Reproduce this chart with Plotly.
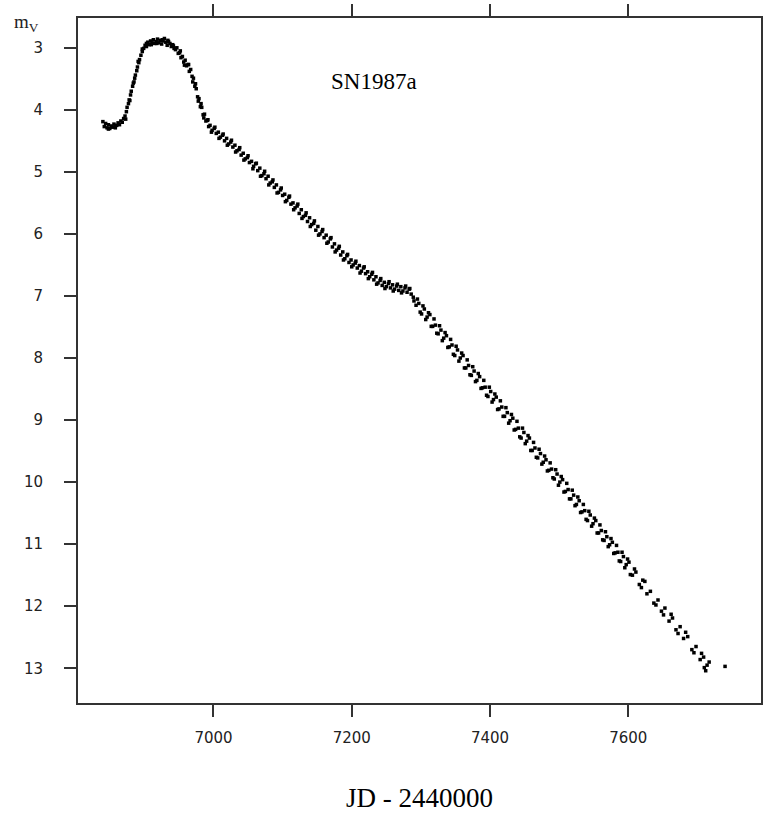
import plotly.graph_objects as go

# ---- data (JD - 2440000, visual magnitude m_V) ----
jd_rise = [6840, 6842, 6844, 6846, 6848, 6850, 6852, 6854, 6856, 6858,
           6860, 6862, 6864, 6866, 6868, 6870, 6872, 6874, 6875, 6877,
           6878, 6880, 6881, 6883, 6884, 6886, 6887, 6889, 6890, 6892,
           6893, 6895, 6897, 6899, 6901, 6903]
mag_rise = [4.19, 4.27, 4.22, 4.29, 4.24, 4.30, 4.26, 4.28, 4.23, 4.27,
            4.25, 4.21, 4.24, 4.18, 4.20, 4.14, 4.10, 4.03, 3.96, 3.90,
            3.84, 3.76, 3.70, 3.62, 3.57, 3.49, 3.44, 3.37, 3.31, 3.24,
            3.19, 3.12, 3.06, 3.01, 2.96, 2.93]

jd_peak = [6905, 6907, 6909, 6911, 6913, 6915, 6917, 6919, 6921, 6923,
           6925, 6927, 6929, 6931, 6933, 6935, 6937, 6939, 6941, 6943]
mag_peak = [2.91, 2.95, 2.89, 2.92, 2.87, 2.93, 2.90, 2.86, 2.92, 2.88,
            2.94, 2.89, 2.85, 2.91, 2.96, 2.90, 2.93, 2.98, 2.95, 3.01]

jd_fall = [6945, 6947, 6949, 6951, 6953, 6955, 6957, 6959, 6961, 6963,
           6965, 6967, 6969, 6971, 6973, 6975, 6977, 6979, 6981, 6983,
           6985, 6987, 6989, 6991, 6993, 6995, 6998, 7001, 7004, 7007,
           7010, 7013, 7016, 7019, 7022, 7025, 7028, 7031, 7034, 7037,
           7040, 7043, 7046, 7049, 7052, 7055]
mag_fall = [3.03, 3.00, 3.09, 3.08, 3.16, 3.14, 3.23, 3.20, 3.29, 3.27,
            3.38, 3.35, 3.46, 3.49, 3.62, 3.66, 3.79, 3.82, 3.95, 3.96,
            4.08, 4.07, 4.18, 4.17, 4.27, 4.25, 4.33, 4.30, 4.38, 4.36,
            4.44, 4.41, 4.50, 4.46, 4.55, 4.52, 4.60, 4.57, 4.66, 4.64,
            4.73, 4.70, 4.79, 4.77, 4.85, 4.83]

jd_tail1 = [7058, 7061, 7064, 7067, 7070, 7073, 7076, 7079, 7082, 7085,
            7088, 7091, 7094, 7097, 7100, 7103, 7106, 7109, 7112, 7115,
            7118, 7121, 7124, 7127, 7130, 7133, 7136, 7139, 7142, 7145,
            7148, 7151, 7154, 7157, 7160, 7163, 7166, 7169, 7172, 7175,
            7178, 7181, 7184, 7187, 7190, 7193, 7196]
mag_tail1 = [4.91, 4.87, 4.98, 4.94, 5.06, 5.03, 5.11, 5.07, 5.18, 5.16,
             5.25, 5.21, 5.33, 5.29, 5.38, 5.36, 5.46, 5.41, 5.52, 5.50,
             5.58, 5.55, 5.67, 5.61, 5.72, 5.70, 5.80, 5.74, 5.85, 5.83,
             5.94, 5.88, 6.00, 5.96, 6.06, 6.02, 6.13, 6.08, 6.21, 6.16,
             6.26, 6.23, 6.34, 6.29, 6.40, 6.35, 6.46]

jd_shoulder = [7199, 7202, 7205, 7208, 7211, 7214, 7217, 7220, 7223, 7226,
               7229, 7232, 7235, 7238, 7241, 7244, 7247, 7250, 7253, 7256,
               7259, 7262, 7265, 7268, 7271, 7274, 7277, 7280, 7283, 7286,
               7289]
mag_shoulder = [6.42, 6.50, 6.47, 6.55, 6.51, 6.60, 6.55, 6.64, 6.61, 6.69,
                6.65, 6.74, 6.69, 6.79, 6.75, 6.83, 6.78, 6.85, 6.80, 6.87,
                6.82, 6.89, 6.84, 6.91, 6.85, 6.92, 6.87, 6.94, 6.89, 6.97,
                7.02]

jd_tail2 = [7293, 7297, 7301, 7305, 7309, 7313, 7317, 7321, 7325, 7329,
            7333, 7337, 7341, 7345, 7349, 7353, 7357, 7361, 7365, 7369,
            7373, 7377, 7381, 7385, 7389, 7393, 7397, 7401, 7405, 7409,
            7413, 7417, 7421, 7425, 7429, 7433, 7437, 7441, 7445, 7449,
            7453, 7457, 7461, 7465, 7469, 7473, 7477, 7481, 7485, 7489,
            7493, 7497, 7501, 7505, 7509, 7513, 7517, 7521, 7525, 7529,
            7533, 7537, 7541, 7545, 7549, 7553, 7557, 7561, 7565, 7569,
            7573, 7577, 7581, 7585, 7589, 7593, 7597, 7601]
mag_tail2 = [7.15, 7.12, 7.29, 7.21, 7.34, 7.30, 7.49, 7.47, 7.61, 7.55,
             7.68, 7.64, 7.82, 7.79, 7.96, 7.87, 8.00, 7.96, 8.16, 8.12,
             8.28, 8.21, 8.36, 8.30, 8.48, 8.47, 8.62, 8.54, 8.67, 8.63,
             8.82, 8.79, 8.94, 8.88, 9.01, 8.97, 9.15, 9.13, 9.29, 9.20,
             9.34, 9.29, 9.49, 9.45, 9.61, 9.54, 9.68, 9.64, 9.81, 9.79,
             9.95, 9.87, 10.00, 9.96, 10.15, 10.12, 10.27, 10.21, 10.36, 10.30,
             10.48, 10.46, 10.62, 10.53, 10.67, 10.62, 10.82, 10.78, 10.94, 10.88,
             11.01, 10.97, 11.14, 11.13, 11.28, 11.20, 11.33, 11.29]

jd_late = [7606, 7611, 7616, 7621, 7627, 7632, 7637, 7643, 7648, 7653,
           7659, 7664, 7669, 7675, 7680, 7686, 7692, 7698, 7704, 7709,
           7712, 7714, 7717, 7740]
mag_late = [11.50, 11.45, 11.65, 11.58, 11.80, 11.76, 11.95, 11.90, 12.08, 12.03,
            12.24, 12.19, 12.38, 12.33, 12.52, 12.49, 12.70, 12.65, 12.86, 12.82,
            13.04, 12.95, 12.90, 12.97]

# second, interleaved set of observations (the scatter band)
jd_extra = [6848, 6858, 6873, 6879, 6885, 6891, 6897, 6903, 6910, 6918,
            6926, 6934, 6942,
            6952, 6958, 6964, 6970, 6974, 6978, 6982, 6986, 6992, 6997,
            7002, 7008, 7014, 7020, 7026, 7032, 7038, 7044, 7050, 7057,
            7062, 7068, 7074, 7080, 7086, 7092, 7098, 7104, 7110, 7116,
            7122, 7128, 7134, 7140, 7146, 7152, 7158, 7164, 7170, 7176,
            7182, 7188, 7194, 7200, 7206, 7212, 7218, 7224, 7230, 7236,
            7242, 7248, 7254, 7260, 7266, 7272, 7278, 7284, 7290, 7295,
            7299, 7303, 7307, 7311, 7315, 7319, 7323, 7327, 7331, 7335,
            7339, 7343, 7347, 7351, 7355, 7359, 7363, 7367, 7371, 7375,
            7379, 7383, 7387, 7391, 7395, 7399, 7403, 7407, 7411, 7415,
            7419, 7423, 7427, 7431, 7435, 7439, 7443, 7447, 7451, 7455,
            7459, 7463, 7467, 7471, 7475, 7479, 7483, 7487, 7491, 7495,
            7499, 7503, 7507, 7511, 7515, 7519, 7523, 7527, 7531, 7535,
            7539, 7543, 7547, 7551, 7555, 7559, 7563, 7567, 7571, 7575,
            7579, 7583, 7587, 7591, 7595, 7599, 7603, 7609, 7619, 7624,
            7640, 7651, 7662, 7672, 7683, 7695, 7706, 7710]
mag_extra = [4.31, 4.29, 4.15, 3.85, 3.55, 3.22, 3.02, 2.98, 2.95, 2.93,
             2.87, 2.88, 2.97,
             3.05, 3.28, 3.27, 3.55, 3.58, 3.86, 3.90, 4.13, 4.16, 4.36,
             4.28, 4.46, 4.39, 4.57, 4.49, 4.68, 4.61, 4.81, 4.74, 4.95,
             4.86, 5.07, 4.99, 5.21, 5.13, 5.34, 5.26, 5.48, 5.39, 5.61,
             5.52, 5.75, 5.66, 5.88, 5.79, 6.02, 5.93, 6.15, 6.06, 6.29,
             6.20, 6.42, 6.33, 6.53, 6.44, 6.63, 6.53, 6.72, 6.62, 6.81,
             6.72, 6.88, 6.77, 6.92, 6.81, 6.95, 6.84, 6.88, 7.08, 7.05,
             7.26, 7.16, 7.38, 7.27, 7.49, 7.37, 7.60, 7.48, 7.72, 7.59,
             7.83, 7.70, 7.94, 7.81, 8.05, 7.92, 8.16, 8.03, 8.27, 8.14,
             8.38, 8.25, 8.49, 8.36, 8.60, 8.47, 8.71, 8.58, 8.83, 8.69,
             8.94, 8.80, 9.05, 8.91, 9.16, 9.02, 9.27, 9.13, 9.38, 9.25,
             9.49, 9.36, 9.60, 9.47, 9.71, 9.58, 9.82, 9.69, 9.93, 9.80,
             10.05, 9.91, 10.16, 10.02, 10.27, 10.13, 10.38, 10.24, 10.49, 10.36,
             10.60, 10.47, 10.71, 10.58, 10.82, 10.69, 10.93, 10.80, 11.04, 10.91,
             11.15, 11.02, 11.27, 11.13, 11.38, 11.24, 11.49, 11.40, 11.70, 11.60,
             11.98, 12.14, 12.13, 12.44, 12.42, 12.75, 12.76, 12.99]

x_ticks = [7000, 7200, 7400, 7600]
y_ticks = [3, 4, 5, 6, 7, 8, 9, 10, 11, 12, 13]

jd = jd_rise + jd_peak + jd_fall + jd_tail1 + jd_shoulder + jd_tail2 + jd_late + jd_extra
mag = mag_rise + mag_peak + mag_fall + mag_tail1 + mag_shoulder + mag_tail2 + mag_late + mag_extra

fig = go.Figure()
fig.add_trace(go.Scatter(
    x=jd, y=mag, mode="markers",
    marker=dict(symbol="square", size=3.5, color="black", line=dict(width=0)),
    showlegend=False,
))

axis_col = "#333333"
tick_font = dict(family="DejaVu Sans", size=15, color="#222222")

fig.update_layout(
    width=767, height=816,
    margin=dict(l=78, r=4, t=14, b=113),
    paper_bgcolor="white", plot_bgcolor="white",
    xaxis=dict(
        range=[6804, 7792], tickvals=x_ticks, ticks="outside", ticklen=12,
        tickwidth=2, tickcolor=axis_col, showline=True, linecolor=axis_col,
        linewidth=2, mirror="ticks", showgrid=False, zeroline=False,
        tickfont=tick_font, ticklabelstandoff=8,
    ),
    yaxis=dict(
        range=[13.56, 2.52], tickvals=y_ticks, ticks="outside", ticklen=12,
        tickwidth=2, tickcolor=axis_col, showline=True, linecolor=axis_col,
        linewidth=2, mirror=True, showgrid=False, zeroline=False,
        tickfont=tick_font, ticklabelstandoff=18,
    ),
    annotations=[
        dict(text="m<sub>V</sub>", xref="paper", yref="paper",
             x=-0.097, y=0.993, xanchor="left", yanchor="middle",
             showarrow=False,
             font=dict(family="Liberation Serif", size=19, color="#222222")),
        dict(text="SN1987a", xref="x", yref="y", x=7167, y=3.55,
             xanchor="left", yanchor="middle", showarrow=False,
             font=dict(family="Liberation Serif", size=23, color="black")),
        dict(text="JD - 2440000", xref="paper", yref="paper",
             x=0.5, y=-0.138, xanchor="center", yanchor="middle",
             showarrow=False,
             font=dict(family="Liberation Serif", size=27, color="black")),
    ],
)

fig.write_html("out.html")
